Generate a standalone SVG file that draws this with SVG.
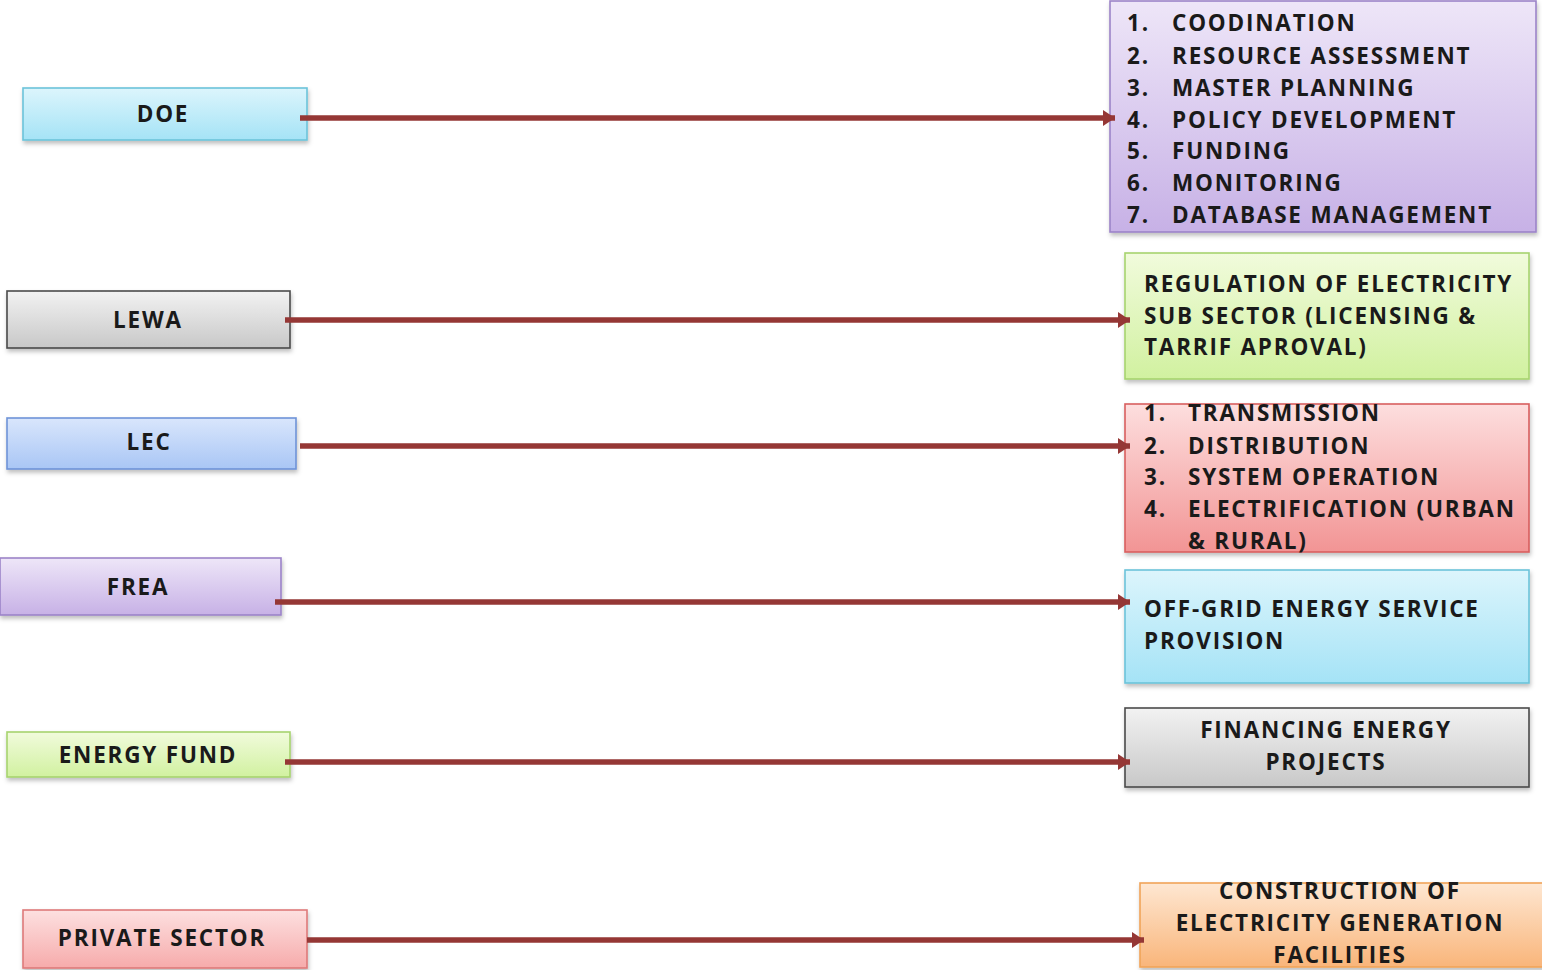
<svg xmlns="http://www.w3.org/2000/svg" width="1542" height="970" viewBox="0 0 1542 970">
<style>
text{font-family:"Open Sans","Liberation Sans",sans-serif;font-weight:700;font-size:22.5px;fill:#1a1a1a;letter-spacing:1.8px}
.c{text-anchor:middle}
.box{stroke-width:1.6}
.conn line{stroke:#953735;stroke-width:5.5}
</style>
<defs>
<filter id="sh" x="-5%" y="-10%" width="112%" height="130%"><feDropShadow dx="1" dy="3" stdDeviation="2" flood-color="#000" flood-opacity="0.25"/></filter>
<linearGradient id="gCyan" x1="0" y1="0" x2="0" y2="1"><stop offset="0" stop-color="#dcf5fc"/><stop offset="1" stop-color="#a5e3f6"/></linearGradient>
<linearGradient id="gGray" x1="0" y1="0" x2="0" y2="1"><stop offset="0" stop-color="#f2f2f2"/><stop offset="1" stop-color="#c8c8c8"/></linearGradient>
<linearGradient id="gBlue" x1="0" y1="0" x2="0" y2="1"><stop offset="0" stop-color="#d9e6fc"/><stop offset="1" stop-color="#a9c6f5"/></linearGradient>
<linearGradient id="gPurple" x1="0" y1="0" x2="0" y2="1"><stop offset="0" stop-color="#eee6f8"/><stop offset="1" stop-color="#c7b1e6"/></linearGradient>
<linearGradient id="gGreen" x1="0" y1="0" x2="0" y2="1"><stop offset="0" stop-color="#f1fbdc"/><stop offset="1" stop-color="#d1f1a0"/></linearGradient>
<linearGradient id="gRed" x1="0" y1="0" x2="0" y2="1"><stop offset="0" stop-color="#fddede"/><stop offset="1" stop-color="#f29494"/></linearGradient>
<linearGradient id="gPink" x1="0" y1="0" x2="0" y2="1"><stop offset="0" stop-color="#fde0e0"/><stop offset="1" stop-color="#f6abab"/></linearGradient>
<linearGradient id="gOrange" x1="0" y1="0" x2="0" y2="1"><stop offset="0" stop-color="#fee7d2"/><stop offset="1" stop-color="#f9b57a"/></linearGradient>
<marker id="ah" markerUnits="userSpaceOnUse" markerWidth="14" markerHeight="18" refX="12" refY="9" orient="auto"><path d="M0,1 L12,9 L0,17 Z" fill="#953735"/></marker>
</defs>
<rect width="1542" height="970" fill="#fff"/>

<g id="doe"><rect class="box" x="23" y="88" width="284" height="52" fill="url(#gCyan)" stroke="#6cc3da" filter="url(#sh)"/><text class="c" x="163" y="122">DOE</text></g>
<g id="lewa"><rect class="box" x="7" y="291" width="283" height="57" fill="url(#gGray)" stroke="#4a4a4a" filter="url(#sh)"/><text class="c" x="148" y="328">LEWA</text></g>
<g id="lec"><rect class="box" x="7" y="418" width="289" height="51" fill="url(#gBlue)" stroke="#6e93d8" filter="url(#sh)"/><text class="c" x="149" y="450">LEC</text></g>
<g id="frea"><rect class="box" x="0" y="558" width="281" height="57" fill="url(#gPurple)" stroke="#9c84c8" filter="url(#sh)"/><text class="c" x="138" y="595">FREA</text></g>
<g id="energy-fund"><rect class="box" x="7" y="732" width="283" height="45" fill="url(#gGreen)" stroke="#a7d46e" filter="url(#sh)"/><text class="c" x="148" y="763">ENERGY FUND</text></g>
<g id="private-sector"><rect class="box" x="23" y="910" width="284" height="58" fill="url(#gPink)" stroke="#de7a7a" filter="url(#sh)"/><text class="c" x="162" y="946">PRIVATE SECTOR</text></g>

<g id="doe-roles"><rect class="box" x="1110" y="1" width="426" height="231" fill="url(#gPurple)" stroke="#9c84c8" filter="url(#sh)"/>
<text x="1127" y="31">1.</text><text x="1172" y="31">COODINATION</text>
<text x="1127" y="64">2.</text><text x="1172" y="64">RESOURCE ASSESSMENT</text>
<text x="1127" y="96">3.</text><text x="1172" y="96">MASTER PLANNING</text>
<text x="1127" y="128">4.</text><text x="1172" y="128">POLICY DEVELOPMENT</text>
<text x="1127" y="159">5.</text><text x="1172" y="159">FUNDING</text>
<text x="1127" y="191">6.</text><text x="1172" y="191">MONITORING</text>
<text x="1127" y="223">7.</text><text x="1172" y="223">DATABASE MANAGEMENT</text>
</g>
<g id="lewa-roles"><rect class="box" x="1125" y="253" width="404" height="126" fill="url(#gGreen)" stroke="#a7d46e" filter="url(#sh)"/>
<text x="1144" y="292">REGULATION OF ELECTRICITY</text>
<text x="1144" y="324">SUB SECTOR (LICENSING &amp;</text>
<text x="1144" y="355">TARRIF APROVAL)</text>
</g>
<g id="lec-roles"><rect class="box" x="1125" y="404" width="404" height="148" fill="url(#gRed)" stroke="#d85e5e" filter="url(#sh)"/>
<text x="1144" y="421">1.</text><text x="1188" y="421">TRANSMISSION</text>
<text x="1144" y="454">2.</text><text x="1188" y="454">DISTRIBUTION</text>
<text x="1144" y="485">3.</text><text x="1188" y="485">SYSTEM OPERATION</text>
<text x="1144" y="517">4.</text><text x="1188" y="517">ELECTRIFICATION (URBAN</text>
<text x="1188" y="549">&amp; RURAL)</text>
</g>
<g id="frea-roles"><rect class="box" x="1125" y="570" width="404" height="113" fill="url(#gCyan)" stroke="#6cc3da" filter="url(#sh)"/>
<text x="1144" y="617">OFF-GRID ENERGY SERVICE</text>
<text x="1144" y="649">PROVISION</text>
</g>
<g id="fund-roles"><rect class="box" x="1125" y="708" width="404" height="79" fill="url(#gGray)" stroke="#4a4a4a" filter="url(#sh)"/>
<text class="c" x="1326" y="738">FINANCING ENERGY</text>
<text class="c" x="1326" y="770">PROJECTS</text>
</g>
<g id="private-roles"><rect class="box" x="1140" y="883" width="404" height="84" fill="url(#gOrange)" stroke="#f0a458" filter="url(#sh)"/>
<text class="c" x="1340" y="899">CONSTRUCTION OF</text>
<text class="c" x="1340" y="931">ELECTRICITY GENERATION</text>
<text class="c" x="1340" y="963">FACILITIES</text>
</g>

<g class="conn">
<line x1="300" y1="118" x2="1115" y2="118" marker-end="url(#ah)"/>
<line x1="285" y1="320" x2="1130" y2="320" marker-end="url(#ah)"/>
<line x1="300" y1="446" x2="1130" y2="446" marker-end="url(#ah)"/>
<line x1="275" y1="602" x2="1130" y2="602" marker-end="url(#ah)"/>
<line x1="285" y1="762" x2="1130" y2="762" marker-end="url(#ah)"/>
<line x1="307" y1="940" x2="1144" y2="940" marker-end="url(#ah)"/>
</g>
</svg>
